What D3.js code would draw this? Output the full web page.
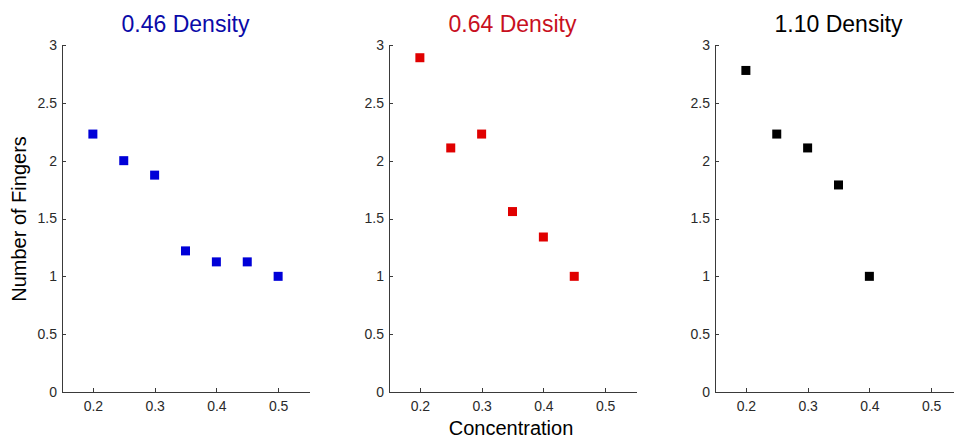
<!DOCTYPE html>
<html>
<head>
<meta charset="utf-8">
<title>Fingers vs Concentration</title>
<style>
  body { margin: 0; background: #fff; }
  svg { display: block; font-family: "Liberation Sans", Arial, sans-serif; }
  .axis path, .axis line { stroke: #3a3a3a; stroke-width: 1; shape-rendering: crispEdges; }
  .axis text { fill: #2a2a2a; font-size: 14px; font-family: "Liberation Sans", Arial, sans-serif; }
  .title { font-size: 23px; text-anchor: middle; }
  .label { font-size: 20px; text-anchor: middle; fill: #000; }
</style>
<script src="https://cdn.jsdelivr.net/npm/d3@7"></script>
</head>
<body>
<script>
// data
var titles = ["0.46 Density", "0.64 Density", "1.10 Density"];
var titleColors = ["#0a0aa8", "#c8101e", "#000000"];
var markerColors = ["#0000d8", "#e00000", "#000000"];

var conc046 = [0.20, 0.25, 0.30, 0.35, 0.40, 0.45, 0.50];
var fingers046 = [2.23, 2.0, 1.875, 1.22, 1.125, 1.125, 1.0];

var conc064 = [0.20, 0.25, 0.30, 0.35, 0.40, 0.45];
var fingers064 = [2.89, 2.11, 2.23, 1.56, 1.34, 1.0];

var conc110 = [0.20, 0.25, 0.30, 0.35, 0.40];
var fingers110 = [2.78, 2.23, 2.11, 1.79, 1.0];

var xTicks = [0.2, 0.3, 0.4, 0.5];
var yTicks = [0, 0.5, 1, 1.5, 2, 2.5, 3];

var series = [
  { x: conc046, y: fingers046 },
  { x: conc064, y: fingers064 },
  { x: conc110, y: fingers110 }
];

var width = 954, height = 439;
var panelLeft = [62, 389, 715];
var plotW = 247, plotTop = 45, plotBottom = 392;
var sq = 9;

var svg = d3.select("body").append("svg")
  .attr("width", width).attr("height", height);

var y = d3.scaleLinear().domain([0, 3]).range([plotBottom, plotTop]);

series.forEach(function(s, k) {
  var x = d3.scaleLinear().domain([0.15, 0.55]).range([panelLeft[k], panelLeft[k] + plotW]);

  // x axis, ticks pointing up into the plot
  svg.append("g").attr("class", "axis")
    .attr("transform", "translate(0," + plotBottom + ")")
    .call(d3.axisBottom(x).tickValues(xTicks).tickSize(-4).tickSizeOuter(0)
      .tickPadding(9).tickFormat(d3.format(".1f")));

  // y axis, ticks pointing right
  svg.append("g").attr("class", "axis")
    .attr("transform", "translate(" + panelLeft[k] + ",0)")
    .call(d3.axisLeft(y).tickValues(yTicks).tickSize(-4).tickSizeOuter(0)
      .tickPadding(5).tickFormat(function(d) { return String(d); }));

  svg.append("text").attr("class", "title")
    .attr("x", (x.range()[0] + x.range()[1]) / 2)
    .attr("y", 32)
    .attr("fill", titleColors[k])
    .text(titles[k]);

  var pts = s.x.map(function(v, i) { return [v, s.y[i]]; });
  svg.append("g").selectAll("rect")
    .data(pts).enter().append("rect")
    .attr("x", function(d) { return x(d[0]) - sq / 2; })
    .attr("y", function(d) { return y(d[1]) - sq / 2; })
    .attr("width", sq).attr("height", sq)
    .attr("fill", markerColors[k]);
});

svg.append("text").attr("class", "label")
  .attr("transform", "translate(26,219) rotate(-90)")
  .text("Number of Fingers");

svg.append("text").attr("class", "label")
  .attr("x", 511).attr("y", 435)
  .text("Concentration");
</script>
</body>
</html>
